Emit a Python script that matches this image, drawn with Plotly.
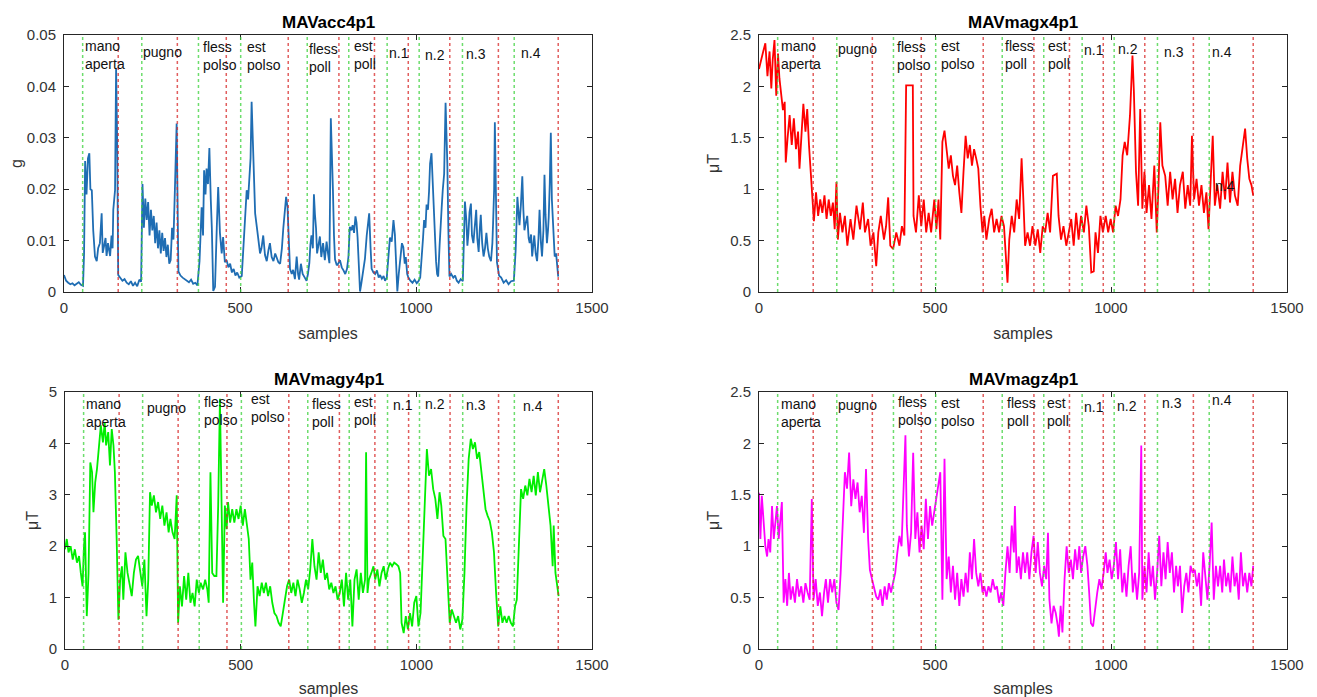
import plotly.graph_objects as go

# ---------------- data ----------------
acc_samples = [0,6,12,18,24,30,36,42,48,54,57,60,64,68,72,75,79,83,88,93,97,102,107,110,114,118,121,125,128,131,135,138,140,145,148,151,154,160,166,172,178,184,190,196,202,208,214,219,223,227,231,235,239,243,247,251,255,259,263,267,271,275,279,283,287,291,295,299,303,307,311,315,320,325,331,337,343,349,355,361,367,373,379,385,391,395,398,402,405,409,413,417,420,424,429,434,438,443,448,452,457,462,467,472,477,482,487,492,498,505,511,515,519,523,527,530,533,538,543,549,553,557,561,566,571,576,581,585,590,595,600,604,609,614,619,623,627,631,635,638,642,647,651,656,661,665,668,673,678,684,689,693,697,700,703,707,710,713,716,719,723,727,731,736,741,746,750,754,758,761,764,767,770,775,779,784,789,794,799,804,808,812,816,820,824,828,831,834,838,841,845,850,855,860,864,867,871,874,879,884,889,894,898,903,908,912,917,922,926,931,936,940,943,947,951,955,960,964,968,971,975,978,984,990,996,1002,1007,1012,1016,1020,1023,1027,1030,1034,1037,1040,1044,1047,1049,1053,1057,1060,1063,1067,1070,1073,1076,1080,1084,1087,1089,1092,1095,1100,1106,1111,1116,1121,1127,1133,1136,1139,1143,1146,1149,1152,1156,1159,1163,1167,1171,1174,1178,1181,1184,1188,1192,1196,1200,1204,1208,1213,1217,1219,1222,1224,1227,1230,1236,1242,1249,1256,1263,1270,1278,1283,1288,1291,1294,1298,1302,1305,1308,1312,1316,1320,1323,1327,1330,1333,1336,1340,1344,1348,1351,1355,1358,1362,1365,1368,1372,1375,1377,1380,1383,1386,1389,1392,1394,1398,1401,1404]
acc_values = [0.0033,0.0022,0.0018,0.0015,0.0017,0.0013,0.0016,0.0019,0.0014,0.0012,0.0075,0.0255,0.019,0.026,0.027,0.020,0.0198,0.012,0.0069,0.006,0.0085,0.0095,0.0153,0.0076,0.009,0.0105,0.0070,0.0095,0.0082,0.0070,0.011,0.0085,0.016,0.0198,0.0435,0.030,0.0033,0.0028,0.0022,0.0025,0.0018,0.0015,0.0021,0.0012,0.0018,0.0011,0.0024,0.0020,0.021,0.0125,0.0182,0.014,0.0175,0.011,0.016,0.012,0.0148,0.0095,0.0135,0.0085,0.012,0.0075,0.0115,0.008,0.0105,0.0068,0.0092,0.0055,0.0062,0.0125,0.0102,0.0198,0.0328,0.004,0.0032,0.0028,0.0025,0.0021,0.0019,0.0024,0.0016,0.0018,0.0013,0.006,0.0165,0.011,0.0237,0.019,0.024,0.021,0.028,0.018,0.0124,0.0002,0.001,0.0124,0.0204,0.0115,0.0075,0.0107,0.0058,0.0062,0.0048,0.0055,0.0038,0.0045,0.0032,0.0038,0.0028,0.0031,0.0107,0.016,0.0198,0.018,0.0237,0.026,0.037,0.026,0.0153,0.012,0.0095,0.0075,0.0085,0.011,0.0072,0.006,0.0082,0.0095,0.0068,0.006,0.0075,0.0068,0.0058,0.0055,0.0085,0.0124,0.0155,0.0185,0.0165,0.011,0.0045,0.0035,0.0043,0.0025,0.0069,0.0035,0.0024,0.0055,0.0035,0.0028,0.0022,0.0035,0.0056,0.0092,0.011,0.0085,0.019,0.015,0.0124,0.0075,0.0095,0.0108,0.0068,0.0095,0.0062,0.0098,0.0075,0.0056,0.0338,0.028,0.0198,0.011,0.0063,0.0052,0.0055,0.0062,0.0048,0.0042,0.0035,0.0045,0.0068,0.0127,0.012,0.013,0.0115,0.0147,0.0135,0.0106,0.004,0.0001,0.0018,0.0043,0.0065,0.011,0.0135,0.0153,0.0085,0.0045,0.0038,0.0035,0.0042,0.0028,0.0033,0.0026,0.0031,0.0022,0.0028,0.0065,0.0106,0.0098,0.014,0.0112,0.0069,0.0001,0.0035,0.006,0.0095,0.0087,0.0055,0.0068,0.0035,0.0029,0.0022,0.0018,0.0024,0.0017,0.0021,0.0028,0.006,0.0105,0.014,0.0125,0.017,0.016,0.0195,0.025,0.027,0.022,0.0185,0.011,0.006,0.0035,0.003,0.009,0.014,0.0165,0.0198,0.023,0.0368,0.03,0.025,0.012,0.003,0.0035,0.0028,0.0032,0.0022,0.0018,0.0025,0.0021,0.009,0.0176,0.014,0.009,0.0115,0.0155,0.0172,0.011,0.0095,0.0125,0.016,0.0105,0.0078,0.012,0.015,0.0095,0.0069,0.0085,0.0115,0.0085,0.0069,0.006,0.0095,0.0134,0.020,0.033,0.016,0.0058,0.0032,0.0028,0.0018,0.0023,0.0015,0.0021,0.0022,0.008,0.0185,0.0145,0.013,0.017,0.0225,0.016,0.012,0.0135,0.0148,0.0105,0.0095,0.0112,0.0069,0.009,0.011,0.0075,0.006,0.0105,0.016,0.0095,0.0069,0.012,0.0228,0.015,0.0095,0.012,0.0145,0.021,0.031,0.018,0.0124,0.0085,0.0069,0.0075,0.0055,0.003]

magx_samples = [0,6,12,18,24,30,35,39,44,49,54,58,63,68,73,76,81,87,93,99,105,111,115,120,126,132,137,142,146,151,156,162,168,174,180,186,192,198,204,210,215,220,224,230,237,244,251,260,268,277,287,295,301,310,317,325,333,339,346,355,361,367,373,381,390,399,406,413,418,437,439,446,454,461,468,475,482,489,498,504,510,515,521,527,533,539,545,551,557,563,569,575,581,587,593,599,605,611,617,623,629,635,640,646,654,661,668,675,682,689,696,702,706,711,718,725,732,739,746,751,756,763,770,777,785,792,799,806,813,820,827,835,846,851,858,865,873,880,887,894,901,908,915,923,930,937,944,951,956,963,970,977,985,992,999,1006,1013,1020,1027,1033,1039,1046,1054,1061,1065,1071,1077,1083,1089,1095,1101,1108,1115,1123,1130,1135,1140,1146,1154,1161,1168,1175,1182,1189,1196,1204,1211,1218,1225,1230,1236,1243,1250,1257,1264,1271,1277,1283,1289,1295,1302,1310,1317,1324,1331,1338,1345,1352,1360,1367,1374,1381,1387,1393,1399,1404]
magx_values = [2.17,2.27,2.34,2.42,2.10,2.34,1.98,2.26,2.45,1.91,2.32,2.08,1.91,1.77,1.85,1.26,1.49,1.72,1.43,1.69,1.39,1.56,1.20,1.49,1.83,1.56,1.78,1.43,1.23,0.97,0.69,0.97,0.74,0.90,0.77,0.94,0.71,0.90,0.74,0.87,0.61,1.07,0.51,0.77,0.58,0.74,0.45,0.71,0.51,0.84,0.61,0.87,0.58,0.71,0.45,0.58,0.25,0.58,0.74,0.51,0.64,0.92,0.45,0.42,0.58,0.45,0.64,0.55,2.01,2.01,0.74,0.58,0.94,0.64,0.90,0.58,0.77,0.58,0.90,0.61,0.90,0.51,1.46,1.57,1.39,1.20,1.33,1.13,1.04,1.23,0.97,0.77,1.17,1.52,1.30,1.43,1.23,1.39,1.30,1.20,0.84,0.58,0.74,0.51,0.71,0.81,0.58,0.71,0.58,0.74,0.64,0.32,0.09,0.51,0.74,0.58,0.90,0.71,1.30,0.90,0.45,0.58,0.45,0.64,0.45,0.61,0.38,0.64,0.58,0.77,0.58,1.13,1.15,0.74,0.51,0.64,0.45,0.58,0.71,0.45,0.77,0.51,0.74,0.58,0.84,0.64,0.19,0.20,0.58,0.38,0.74,0.58,0.74,0.58,0.71,0.58,0.84,0.74,0.90,1.33,1.46,1.33,1.72,2.30,1.95,1.17,0.84,1.78,0.81,1.17,0.77,1.04,0.71,1.23,0.58,1.04,1.65,1.23,1.13,0.84,1.17,0.90,1.10,0.77,1.04,1.17,0.81,1.04,0.84,1.52,0.90,1.10,0.84,1.04,0.77,0.97,0.61,1.07,1.52,0.84,1.04,0.81,1.17,0.90,1.26,0.87,1.17,0.94,0.84,1.23,1.39,1.59,1.30,1.10,1.04,0.94]

magy_samples = [0,5,10,16,22,28,34,40,45,50,54,57,62,67,72,77,81,86,91,96,102,108,113,117,123,128,133,138,142,147,152,157,162,166,172,178,184,190,196,202,208,214,220,226,232,237,242,247,253,259,265,271,277,283,289,295,300,306,312,318,322,327,333,339,345,351,357,363,369,375,381,386,393,399,405,409,414,419,425,431,436,441,445,450,455,460,464,470,476,482,488,494,500,506,512,518,523,528,533,538,542,548,554,560,566,572,578,584,590,596,602,608,614,620,626,632,638,644,650,656,662,668,674,680,686,692,698,704,710,716,722,728,734,740,746,752,758,764,770,776,782,788,794,800,806,812,818,824,830,836,842,848,854,857,861,865,872,878,883,889,895,901,907,913,919,925,931,937,943,949,954,958,964,970,976,982,988,994,1000,1006,1012,1018,1024,1030,1036,1042,1048,1054,1060,1066,1071,1077,1083,1089,1095,1101,1107,1113,1119,1125,1131,1137,1143,1149,1155,1161,1167,1173,1179,1185,1191,1197,1203,1209,1215,1221,1227,1233,1239,1245,1251,1257,1263,1269,1275,1281,1286,1292,1298,1304,1310,1316,1322,1328,1334,1340,1346,1352,1358,1364,1370,1376,1382,1388,1391,1396,1401,1405]
magy_values = [1.94,2.14,1.88,2.00,1.74,1.94,1.68,1.81,1.48,1.22,2.00,2.27,0.64,1.48,3.63,3.44,2.66,3.24,3.50,3.89,4.35,4.02,4.41,3.96,4.22,3.57,4.28,3.96,3.44,2.14,0.57,1.35,1.61,0.96,1.88,1.48,1.22,1.03,1.48,1.74,1.81,1.48,1.22,1.74,0.64,1.35,3.05,2.79,2.99,2.66,2.86,2.53,2.79,2.40,2.66,2.27,2.53,2.27,2.14,2.99,0.51,1.22,0.83,1.42,0.96,1.48,0.90,1.09,0.83,1.35,1.09,1.29,1.16,1.35,1.16,0.90,3.44,1.48,1.42,1.42,2.79,4.87,2.79,0.90,2.79,2.33,2.86,2.46,2.72,2.46,2.72,2.53,2.79,2.40,2.72,2.33,2.14,1.35,1.68,0.90,0.44,1.22,1.03,1.29,1.09,1.29,1.03,1.22,0.90,0.70,0.64,0.51,0.44,0.70,0.96,1.22,1.35,1.09,1.29,1.03,1.35,1.16,0.90,1.09,1.35,1.16,1.55,2.14,1.61,1.35,1.88,1.48,1.74,1.35,1.48,1.16,1.29,1.09,1.22,0.96,1.09,1.35,0.83,1.48,0.96,1.35,0.44,1.35,1.55,0.96,1.48,1.09,1.35,3.83,1.09,1.35,1.48,1.61,1.35,1.55,1.22,1.48,1.61,1.35,1.55,1.68,1.61,1.68,1.65,1.61,1.48,0.51,0.31,0.64,0.38,0.70,0.44,0.90,1.03,0.44,0.70,1.88,3.11,3.89,3.37,3.50,3.11,2.92,2.53,3.05,2.79,2.20,2.14,1.16,0.51,0.77,0.64,0.51,0.64,0.38,0.57,1.48,2.79,3.70,4.09,3.89,4.02,3.70,3.83,3.44,3.05,2.72,2.59,2.49,2.27,1.88,1.09,0.44,0.83,0.51,0.64,0.51,0.64,0.51,0.44,0.83,0.96,1.88,3.11,2.92,3.18,2.99,3.31,3.05,3.37,2.99,3.44,3.05,3.31,3.50,3.18,2.79,2.40,1.61,2.40,1.48,1.22,1.03]

magz_samples = [0,4,8,13,18,23,27,32,37,42,46,51,56,61,65,70,75,80,85,90,96,102,108,114,120,126,132,138,144,150,155,161,167,173,179,185,190,196,202,208,214,220,226,232,238,244,250,256,262,268,274,280,286,292,298,304,310,315,321,327,333,339,345,351,357,363,369,375,381,387,393,399,405,411,416,420,426,432,438,444,450,456,462,468,474,480,486,492,498,504,510,515,521,527,533,539,545,551,557,563,569,575,581,587,593,599,605,611,617,623,629,635,640,646,652,658,664,670,676,682,688,694,700,706,712,718,724,727,732,738,744,750,756,762,768,774,780,786,792,798,804,810,816,821,825,831,837,843,849,852,857,862,868,874,880,886,892,898,904,910,915,921,927,933,938,943,949,955,961,967,973,979,985,990,996,1002,1008,1014,1020,1026,1032,1038,1044,1050,1056,1062,1068,1074,1080,1086,1089,1095,1101,1107,1113,1119,1125,1131,1137,1143,1149,1155,1161,1167,1173,1179,1185,1190,1196,1202,1208,1214,1220,1226,1232,1238,1244,1250,1256,1262,1268,1274,1280,1286,1292,1298,1304,1310,1316,1321,1327,1333,1339,1345,1351,1357,1363,1369,1375,1381,1387,1393,1399,1404]
magz_values = [1.52,1.07,1.49,1.26,1.00,0.90,1.07,0.94,1.39,1.07,1.20,1.39,1.07,1.26,1.43,0.45,0.68,0.42,0.74,0.48,0.61,0.45,0.68,0.51,0.61,0.45,0.64,0.55,0.48,1.46,0.48,0.68,0.42,0.55,0.32,0.55,0.68,0.45,0.68,0.55,0.68,0.45,0.38,0.74,1.33,1.72,1.56,1.91,1.39,1.65,1.46,1.62,1.33,1.49,1.13,1.75,1.07,0.77,0.68,0.58,0.51,0.48,0.58,0.42,0.61,0.48,0.64,0.55,0.64,0.74,0.94,1.10,1.00,1.65,2.08,1.20,0.90,1.13,1.91,1.07,1.33,0.94,1.20,0.97,1.46,1.07,1.39,1.20,1.33,1.46,1.59,1.72,0.48,1.85,0.68,0.90,0.55,0.81,0.48,0.74,0.42,0.68,0.51,0.74,0.55,0.94,0.68,1.07,0.74,0.61,0.74,0.55,0.61,0.51,0.61,0.55,0.68,0.58,0.61,0.45,0.55,0.42,0.74,1.00,0.74,1.20,0.94,1.39,0.74,0.90,0.68,0.94,0.74,0.94,0.68,0.94,1.10,0.74,1.04,0.74,0.61,0.81,0.68,1.13,0.48,0.25,0.42,0.35,0.22,0.12,0.42,0.16,0.68,1.00,0.74,0.87,0.68,0.97,0.77,1.00,0.74,0.90,1.00,0.81,0.55,0.25,0.22,0.42,0.55,0.68,0.58,0.74,0.94,0.74,0.87,0.68,0.81,1.04,0.68,0.97,0.55,0.74,0.51,0.81,1.00,0.55,0.74,0.48,0.74,1.98,0.48,0.81,0.55,0.94,0.61,0.81,0.48,0.74,1.10,0.61,0.94,0.68,1.04,0.74,0.94,0.55,0.81,0.61,0.81,0.35,0.61,0.74,0.55,0.81,0.74,0.77,0.61,0.74,0.42,0.94,0.68,0.48,0.81,1.23,0.48,0.81,0.61,0.81,0.55,0.87,0.61,0.74,0.55,0.90,0.61,0.74,0.48,0.94,0.61,0.74,0.55,0.74,0.61,0.81]

# segment boundaries (samples)
start_marks = [53, 221, 382, 502, 691, 809, 918, 1009, 1132, 1279]
end_marks = [154, 322, 461, 637, 781, 882, 978, 1096, 1234, 1404]

titles = ["MAVacc4p1", "MAVmagx4p1", "MAVmagy4p1", "MAVmagz4p1"]
y_titles = ["g", "\u03bcT", "\u03bcT", "\u03bcT"]
y_ranges = [[0, 0.05], [0, 2.5], [0, 5], [0, 2.5]]
y_dticks = [0.01, 0.5, 1, 0.5]
x_ticks = [0, 500, 1000, 1500]
line_colors = ["#1f6db3", "#ff0000", "#00ee00", "#ff00ff"]

# gesture labels: (text, sample, value at the middle of the text block) per panel
labels_acc = [("mano<br>aperta", 54, 0.0462), ("pugno", 219, 0.0467),
              ("fless<br>polso", 390, 0.0459), ("est<br>polso", 514, 0.0460),
              ("fless<br>poll", 691, 0.0455), ("est<br>poll", 818, 0.0462),
              ("n.1", 919, 0.0464), ("n.2", 1019, 0.0461), ("n.3", 1135, 0.0463),
              ("n.4", 1293, 0.0464)]
labels_magx = [("mano<br>aperta", 57, 2.31), ("pugno", 218, 2.36),
               ("fless<br>polso", 385, 2.30), ("est<br>polso", 512, 2.31),
               ("fless<br>poll", 694, 2.31), ("est<br>poll", 815, 2.31),
               ("n.1", 917, 2.35), ("n.2", 1015, 2.36), ("n.3", 1146, 2.33),
               ("n.4", 1281, 2.33), ("n.4", 1289, 1.035)]
labels_magy = [("mano<br>aperta", 54, 4.59), ("pugno", 229, 4.69),
               ("fless<br>polso", 390, 4.63), ("est<br>polso", 524, 4.68),
               ("fless<br>poll", 696, 4.60), ("est<br>poll", 818, 4.63),
               ("n.1", 928, 4.74), ("n.2", 1019, 4.77), ("n.3", 1137, 4.75),
               ("n.4", 1299, 4.72)]
labels_magz = [("mano<br>aperta", 57, 2.30), ("pugno", 218, 2.37),
               ("fless<br>polso", 388, 2.32), ("est<br>polso", 512, 2.31),
               ("fless<br>poll", 700, 2.31), ("est<br>poll", 813, 2.31),
               ("n.1", 917, 2.35), ("n.2", 1010, 2.36), ("n.3", 1140, 2.39),
               ("n.4", 1280, 2.42)]

series = [(acc_samples, acc_values), (magx_samples, magx_values),
          (magy_samples, magy_values), (magz_samples, magz_values)]
panel_labels = [labels_acc, labels_magx, labels_magy, labels_magz]

# ---------------- layout geometry ----------------
# the page body has an 8px margin, so the figure is sized to fill the rest of the window
OFF = 8
W, H = 1317 - OFF, 697 - OFF
def px_x(p):
    return (p - OFF) / W
def px_y(p):
    return 1 - (p - OFF) / H

x_domains = [[px_x(64), px_x(592)], [px_x(759), px_x(1287)],
             [px_x(65), px_x(592)], [px_x(759), px_x(1287)]]
y_domains = [[px_y(292), px_y(35)], [px_y(292), px_y(35)],
             [px_y(649), px_y(392)], [px_y(649), px_y(392)]]

AX = "#262626"
FAM = "Liberation Sans, Arial, sans-serif"
TICKFONT = dict(family=FAM, size=15, color="#333333")

fig = go.Figure()
layout = dict(width=W, height=H, margin=dict(l=0, r=0, t=0, b=0, autoexpand=False),
              paper_bgcolor="white", plot_bgcolor="white", showlegend=False)
shapes = []
annotations = []

for i in range(4):
    xa = "x" if i == 0 else f"x{i+1}"
    ya = "y" if i == 0 else f"y{i+1}"
    xs, ys = series[i]
    fig.add_trace(go.Scatter(x=xs, y=ys, mode="lines", xaxis=xa, yaxis=ya,
                             line=dict(color=line_colors[i], width=1.8),
                             hoverinfo="skip"))
    xkey = "xaxis" if i == 0 else f"xaxis{i+1}"
    ykey = "yaxis" if i == 0 else f"yaxis{i+1}"
    layout[xkey] = dict(domain=x_domains[i], anchor=ya, range=[0, 1500], automargin=False,
                        tickvals=x_ticks, ticktext=[str(v) for v in x_ticks],
                        ticks="inside", ticklen=5, tickcolor=AX, showline=True,
                        linecolor=AX, linewidth=1, mirror="ticks", showgrid=False,
                        zeroline=False, tickfont=TICKFONT, ticklabelstandoff=2,
                        title=dict(text="samples", standoff=12,
                                   font=dict(family=FAM, size=16, color="#333333")))
    layout[ykey] = dict(domain=y_domains[i], anchor=xa, range=y_ranges[i], automargin=False,
                        dtick=y_dticks[i], tick0=0,
                        ticks="inside", ticklen=5, tickcolor=AX, showline=True,
                        linecolor=AX, linewidth=1, mirror="ticks", showgrid=False,
                        zeroline=False, tickfont=TICKFONT, ticklabelstandoff=4,
                        title=dict(text=y_titles[i], standoff=6,
                                   font=dict(family=FAM, size=16, color="#333333")))
    for xv in start_marks:
        shapes.append(dict(type="line", xref=xa, yref=f"{ya} domain", x0=xv, x1=xv,
                           y0=0, y1=1, line=dict(color="rgba(60,210,60,0.75)", width=1.5, dash="dot")))
    for xv in end_marks:
        shapes.append(dict(type="line", xref=xa, yref=f"{ya} domain", x0=xv, x1=xv,
                           y0=0, y1=1, line=dict(color="rgba(215,40,40,0.75)", width=1.5, dash="dot")))
    for txt, xv, yv in panel_labels[i]:
        annotations.append(dict(text=txt, x=xv, y=yv, xref=xa, yref=ya, xanchor="left",
                                yanchor="middle", align="left", showarrow=False,
                                font=dict(family=FAM, size=14, color="#111111")))
    annotations.append(dict(text=f"<b>{titles[i]}</b>", x=sum(x_domains[i]) / 2,
                            y=y_domains[i][1], xref="paper", yref="paper",
                            xanchor="center", yanchor="bottom", yshift=1, showarrow=False,
                            font=dict(family=FAM, size=17, color="#000000")))

layout["shapes"] = shapes
layout["annotations"] = annotations
fig.update_layout(**layout)
fig.write_html("out.html")
